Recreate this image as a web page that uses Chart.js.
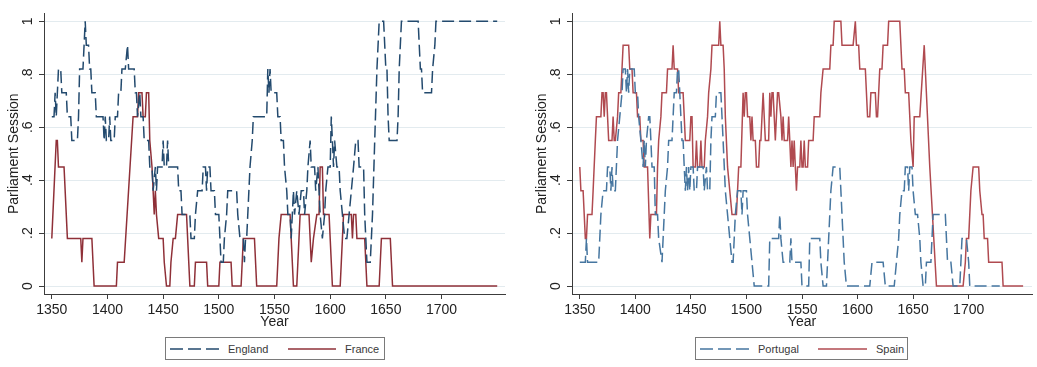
<!DOCTYPE html>
<html>
<head>
<meta charset="utf-8">
<script src="https://cdn.jsdelivr.net/npm/chart.js@4.4.1/dist/chart.umd.min.js"></script>
<style>
    body { margin: 0; background: #fff; font-family: "Liberation Sans", Arial, sans-serif; }
    #page { position: relative; width: 1037px; height: 367px; overflow: hidden; }
    .panel { position: absolute; top: 0; width: 518px; height: 330px; }
    .legend { position: absolute; top: 337px; height: 23px; border: 1px solid #7a7a7a; box-sizing: border-box; }
    .sample { position: absolute; top: 345px; height: 8px; }
    .ltext { position: absolute; top: 342px; font-size: 11px; color: #3a3a3a; line-height: 14px; }
</style>
</head>
<body>
<div id="page">
    <div class="panel" style="left:0px"><canvas id="chartLeft"></canvas></div>
    <div class="panel" style="left:528px"><canvas id="chartRight"></canvas></div>

    <div class="legend" style="left:165px; width:220px"></div>
    <svg class="sample" style="left:170px" width="50" height="8"><line x1="0" y1="4" x2="50" y2="4" stroke="#234a6e" stroke-width="1.6" stroke-dasharray="13 5"/></svg>
    <span class="ltext" style="left:228px">England</span>
    <svg class="sample" style="left:288px" width="48" height="8"><line x1="0" y1="4" x2="48" y2="4" stroke="#8f3038" stroke-width="1.6"/></svg>
    <span class="ltext" style="left:345px">France</span>

    <div class="legend" style="left:695px; width:213px"></div>
    <svg class="sample" style="left:700px" width="50" height="8"><line x1="0" y1="4" x2="50" y2="4" stroke="#4676a0" stroke-width="1.6" stroke-dasharray="13 5"/></svg>
    <span class="ltext" style="left:758px">Portugal</span>
    <svg class="sample" style="left:818px" width="49" height="8"><line x1="0" y1="4" x2="49" y2="4" stroke="#b04a50" stroke-width="1.6"/></svg>
    <span class="ltext" style="left:876px">Spain</span>
</div>

<script>
// [year, share of parliament sessions], breakpoints
const england = [
    [1350,.64],[1352,.64],[1353,.73],[1354,.64],[1355,.73],[1356,.82],[1358,.82],[1359,.73],[1363,.73],[1364,.64],
    [1367,.64],[1368,.55],[1373,.55],[1374,.64],[1375,.82],[1378,.82],[1379,.91],[1380,1],[1381,.91],[1383,.91],
    [1384,.82],[1385,.82],[1386,.73],[1389,.73],[1390,.64],[1396,.64],[1397,.55],[1398,.64],[1399,.55],[1401,.55],
    [1402,.64],[1403,.55],[1406,.55],[1407,.64],[1409,.64],[1410,.73],[1412,.73],[1413,.82],[1416,.82],[1418,.91],
    [1419,.82],[1424,.82],[1425,.73],[1426,.73],[1427,.64],[1429,.73],[1430,.64],[1432,.64],[1433,.55],[1437,.55],
    [1438,.45],[1440,.45],[1441,.36],[1443,.45],[1444,.36],[1445,.45],[1449,.45],[1450,.55],[1451,.45],[1453,.45],
    [1454,.55],[1455,.45],[1463,.45],[1464,.36],[1466,.36],[1467,.27],[1474,.27],[1475,.18],[1478,.18],[1479,.27],
    [1481,.36],[1485,.36],[1486,.45],[1488,.45],[1489,.36],[1490,.45],[1492,.45],[1493,.36],[1496,.36],[1497,.27],
    [1500,.27],[1501,.18],[1502,.09],[1504,.09],[1505,.18],[1507,.27],[1508,.36],[1516,.36],[1517,.27],[1519,.18],
    [1522,.18],[1523,.09],[1524,.18],[1525,.18],[1526,.27],[1528,.45],[1530,.55],[1531,.64],[1543,.64],[1544,.82],
    [1545,.73],[1546,.82],[1547,.73],[1552,.73],[1553,.64],[1555,.64],[1556,.55],[1558,.55],[1559,.45],[1561,.36],
    [1562,.27],[1564,.27],[1565,.18],[1566,.27],[1567,.36],[1568,.27],[1570,.36],[1572,.27],[1574,.36],[1576,.36],
    [1577,.27],[1579,.36],[1580,.45],[1582,.55],[1583,.45],[1586,.45],[1587,.36],[1589,.45],[1590,.36],[1591,.27],
    [1593,.18],[1595,.27],[1596,.36],[1598,.45],[1600,.45],[1601,.64],[1602,.55],[1603,.45],[1604,.55],[1606,.45],
    [1608,.45],[1609,.36],[1611,.27],[1613,.18],[1615,.18],[1617,.27],[1619,.36],[1621,.45],[1623,.55],[1625,.55],
    [1626,.45],[1630,.45],[1631,.27],[1632,.18],[1633,.09],[1636,.09],[1637,.18],[1638,.27],[1640,.55],[1642,.82],
    [1644,1],[1648,1],[1649,.91],[1650,.82],[1651,.82],[1652,.64],[1653,.55],[1660,.55],[1661,.64],[1662,.82],
    [1663,.91],[1664,1],[1679,1],[1680,.91],[1681,.82],[1682,.82],[1683,.73],[1691,.73],[1692,.82],[1694,.91],
    [1695,1],[1750,1]
];

const france = [
    [1350,.18],[1354,.55],[1355,.55],[1356,.45],[1361,.45],[1364,.18],[1376,.18],[1377,.09],[1378,.18],[1386,.18],
    [1387,.09],[1388,0],[1408,0],[1409,.09],[1415,.09],[1423,.64],[1427,.64],[1428,.73],[1431,.73],[1432,.64],
    [1434,.64],[1435,.73],[1437,.73],[1438,.55],[1440,.45],[1441,.36],[1442,.27],[1443,.36],[1444,.27],[1446,.18],
    [1450,.18],[1451,.09],[1453,0],[1456,0],[1457,.09],[1459,.18],[1461,.18],[1463,.27],[1471,.27],[1472,.18],
    [1474,0],[1478,0],[1479,.09],[1489,.09],[1490,0],[1500,0],[1501,.09],[1511,.09],[1512,0],[1520,0],
    [1521,.09],[1522,.18],[1532,.18],[1533,.09],[1534,0],[1552,0],[1553,.09],[1554,.18],[1556,.27],[1564,.27],
    [1565,.18],[1566,.09],[1567,0],[1570,0],[1571,.09],[1572,.18],[1573,.27],[1581,.27],[1582,.18],[1583,.09],
    [1585,.18],[1588,.27],[1590,.27],[1591,.45],[1593,.45],[1594,.27],[1599,.27],[1600,.18],[1601,.09],[1602,0],
    [1609,0],[1610,.09],[1611,.18],[1612,.27],[1619,.27],[1620,.18],[1621,.27],[1623,.27],[1624,.18],[1631,.18],
    [1632,.09],[1633,0],[1644,0],[1645,.09],[1646,.18],[1654,.18],[1655,.09],[1656,0],[1750,0]
];

const portugal = [
    [1350,.09],[1355,.09],[1356,.18],[1357,.09],[1367,.09],[1369,.27],[1371,.36],[1374,.36],[1375,.45],[1377,.45],
    [1378,.36],[1379,.45],[1380,.36],[1382,.36],[1384,.55],[1386,.64],[1388,.73],[1389,.82],[1391,.82],[1392,.73],
    [1393,.82],[1394,.73],[1395,.82],[1399,.82],[1400,.73],[1402,.73],[1403,.64],[1405,.55],[1407,.45],[1408,.55],
    [1409,.45],[1410,.55],[1412,.64],[1413,.64],[1414,.55],[1415,.45],[1417,.45],[1418,.27],[1420,.27],[1421,.18],
    [1424,.09],[1425,.18],[1427,.36],[1429,.45],[1430,.55],[1433,.55],[1434,.64],[1435,.73],[1437,.73],[1438,.82],
    [1439,.82],[1440,.73],[1441,.64],[1442,.55],[1443,.55],[1444,.45],[1445,.36],[1446,.45],[1447,.36],[1448,.45],
    [1449,.36],[1450,.45],[1452,.45],[1453,.36],[1455,.36],[1456,.45],[1461,.45],[1462,.36],[1464,.45],[1465,.36],
    [1467,.36],[1468,.55],[1469,.64],[1472,.64],[1473,.73],[1477,.73],[1479,.55],[1481,.36],[1483,.27],[1485,.18],
    [1487,.09],[1488,.09],[1490,.27],[1492,.36],[1495,.36],[1496,.27],[1497,.36],[1500,.36],[1501,.27],[1503,.18],
    [1505,.09],[1507,0],[1520,0],[1521,.18],[1529,.18],[1530,.27],[1531,.18],[1533,.09],[1539,.09],[1540,.18],
    [1541,.09],[1549,.09],[1550,0],[1556,0],[1557,.18],[1566,.18],[1567,.09],[1569,0],[1572,0],[1574,.18],
    [1576,.36],[1578,.45],[1584,.45],[1586,.27],[1588,.09],[1590,0],[1611,0],[1613,.09],[1623,.09],[1625,0],
    [1633,0],[1635,.09],[1637,.18],[1638,.27],[1640,.36],[1642,.36],[1643,.45],[1645,.45],[1646,.36],[1647,.45],
    [1649,.45],[1650,.36],[1652,.27],[1654,.27],[1656,.18],[1657,.09],[1659,0],[1661,0],[1662,.09],[1666,.09],
    [1668,.27],[1679,.27],[1680,.18],[1681,.09],[1684,.09],[1686,0],[1692,0],[1694,.18],[1698,.18],[1700,.09],
    [1701,0],[1728,0]
];

const spain = [
    [1350,.45],[1351,.36],[1353,.36],[1355,.18],[1356,.18],[1357,.27],[1361,.27],[1362,.36],[1364,.55],[1365,.64],
    [1369,.64],[1370,.73],[1371,.73],[1372,.64],[1373,.73],[1374,.73],[1375,.64],[1376,.55],[1379,.55],[1380,.64],
    [1381,.55],[1382,.55],[1384,.64],[1385,.73],[1387,.73],[1388,.82],[1389,.91],[1394,.91],[1395,.82],[1397,.82],
    [1398,.73],[1401,.73],[1402,.64],[1404,.64],[1405,.55],[1407,.55],[1408,.45],[1411,.45],[1413,.18],[1414,.27],
    [1419,.27],[1420,.45],[1421,.55],[1423,.64],[1424,.73],[1428,.73],[1429,.82],[1433,.82],[1434,.91],[1435,.82],
    [1438,.82],[1439,.73],[1443,.73],[1444,.64],[1445,.55],[1449,.55],[1450,.64],[1451,.64],[1452,.45],[1454,.45],
    [1455,.55],[1456,.45],[1458,.45],[1459,.55],[1460,.45],[1462,.45],[1463,.55],[1465,.64],[1466,.73],[1468,.82],
    [1469,.91],[1475,.91],[1476,1],[1477,.91],[1479,.91],[1480,.82],[1481,.64],[1483,.45],[1485,.36],[1487,.27],
    [1491,.27],[1493,.45],[1495,.45],[1497,.73],[1498,.64],[1499,.73],[1500,.73],[1501,.64],[1503,.64],[1504,.55],
    [1505,.64],[1506,.55],[1508,.55],[1509,.45],[1511,.45],[1512,.55],[1513,.55],[1515,.73],[1517,.55],[1520,.55],
    [1521,.73],[1522,.64],[1523,.73],[1524,.73],[1526,.55],[1528,.73],[1529,.73],[1531,.64],[1532,.55],[1533,.64],
    [1534,.55],[1537,.55],[1538,.64],[1539,.55],[1540,.45],[1541,.55],[1542,.45],[1543,.55],[1544,.45],[1545,.36],
    [1546,.45],[1548,.45],[1549,.55],[1550,.45],[1551,.45],[1552,.55],[1553,.45],[1555,.45],[1556,.55],[1560,.55],
    [1561,.64],[1566,.64],[1567,.73],[1569,.82],[1575,.82],[1576,.91],[1578,.91],[1579,1],[1585,1],[1586,.91],
    [1596,.91],[1598,1],[1599,.91],[1601,.91],[1602,.82],[1607,.82],[1608,.73],[1609,.64],[1611,.64],[1612,.73],
    [1616,.73],[1617,.64],[1618,.64],[1619,.73],[1620,.82],[1622,.82],[1623,.91],[1627,.91],[1628,1],[1638,1],
    [1639,.91],[1640,.82],[1642,.82],[1643,.73],[1646,.73],[1648,.55],[1650,.45],[1651,.64],[1656,.64],[1660,.91],
    [1665,.45],[1671,0],[1695,0],[1697,.09],[1698,.18],[1700,.18],[1702,.36],[1704,.45],[1709,.45],[1710,.36],
    [1712,.27],[1713,.27],[1714,.18],[1717,.18],[1718,.09],[1730,.09],[1731,0],[1749,0]
];

const xTicks = [1350, 1400, 1450, 1500, 1550, 1600, 1650, 1700];
const yTicks = [0, .2, .4, .6, .8, 1];
const yTickLabels = ['0', '.2', '.4', '.6', '.8', '1'];

const FONT = '"Liberation Sans", Arial, sans-serif';

function toPoints(pairs) {
    return pairs.map(p => ({ x: p[0], y: p[1] }));
}

// one Stata-like panel with a dashed and a solid series
function makePanel(canvasId, dashed, solid, rightPad) {
    const ctx = document.getElementById(canvasId).getContext('2d');
    return new Chart(ctx, {
        type: 'line',
        data: {
            datasets: [
                {
                    label: dashed.label,
                    data: toPoints(dashed.data),
                    borderColor: dashed.color,
                    borderWidth: 1.5,
                    borderDash: [12, 5],
                    pointRadius: 0,
                    tension: 0,
                    fill: false
                },
                {
                    label: solid.label,
                    data: toPoints(solid.data),
                    borderColor: solid.color,
                    borderWidth: 1.5,
                    pointRadius: 0,
                    tension: 0,
                    fill: false
                }
            ]
        },
        options: {
            responsive: true,
            maintainAspectRatio: false,
            animation: false,
            events: [],
            layout: { padding: { top: 12, right: rightPad, bottom: 0, left: 0 } },
            plugins: {
                legend: { display: false },
                tooltip: { enabled: false }
            },
            scales: {
                x: {
                    type: 'linear',
                    min: 1343,
                    max: 1757,
                    afterBuildTicks: s => { s.ticks = xTicks.map(v => ({ value: v })); },
                    afterFit: s => { s.height = 36; },
                    border: { display: true, color: '#3c3c3c', width: 1 },
                    grid: { display: true, drawOnChartArea: false, tickLength: 5, tickColor: '#3c3c3c' },
                    ticks: {
                        color: '#222',
                        padding: 3,
                        maxRotation: 0,
                        autoSkip: false,
                        font: { family: FONT, size: 14 },
                        callback: v => String(v)
                    },
                    title: {
                        display: true,
                        text: 'Year',
                        color: '#222',
                        padding: { top: 0, bottom: 0 },
                        font: { family: FONT, size: 14, lineHeight: 1.15 }
                    }
                },
                y: {
                    min: -0.03,
                    max: 1.03,
                    afterBuildTicks: s => { s.ticks = yTicks.map(v => ({ value: v })); },
                    afterFit: s => { s.width = 44; },
                    border: { display: true, color: '#3c3c3c', width: 1 },
                    grid: { color: '#e3ebef', lineWidth: 1, tickLength: 5, tickColor: '#3c3c3c' },
                    ticks: {
                        color: '#222',
                        minRotation: 90,
                        maxRotation: 90,
                        crossAlign: 'center',
                        padding: 5,
                        font: { family: FONT, size: 14 },
                        callback: (v, i) => yTickLabels[i]
                    },
                    title: {
                        display: true,
                        text: 'Parliament Session',
                        color: '#222',
                        padding: { top: 6, bottom: 0 },
                        font: { family: FONT, size: 14, lineHeight: 1.2 }
                    }
                }
            }
        }
    });
}

makePanel('chartLeft',
    { label: 'England', data: england, color: '#234a6e' },
    { label: 'France', data: france, color: '#8f3038' }, 13);

makePanel('chartRight',
    { label: 'Portugal', data: portugal, color: '#4676a0' },
    { label: 'Spain', data: spain, color: '#b04a50' }, 14);
</script>
</body>
</html>
